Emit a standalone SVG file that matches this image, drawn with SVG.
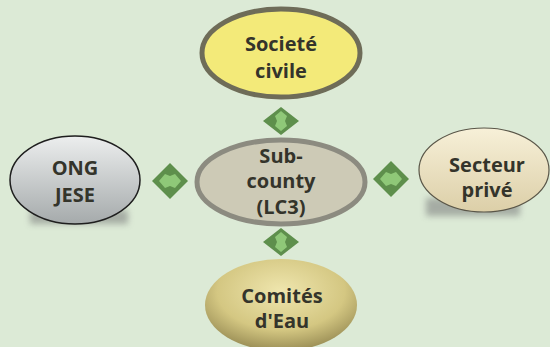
<svg xmlns="http://www.w3.org/2000/svg" width="550" height="347" viewBox="0 0 550 347">
<defs>
<linearGradient id="gGray" x1="0" y1="0" x2="0" y2="1">
<stop offset="0" stop-color="#eceeee"/><stop offset="1" stop-color="#a5aaab"/>
</linearGradient>
<linearGradient id="gCream" x1="0" y1="0" x2="0" y2="1">
<stop offset="0" stop-color="#f7f0d8"/><stop offset="1" stop-color="#dccfa8"/>
</linearGradient>
<radialGradient id="gGold" cx="0.5" cy="0.35" r="0.7">
<stop offset="0" stop-color="#efe6ae"/><stop offset="0.6" stop-color="#d4c782"/><stop offset="1" stop-color="#8e824c"/>
</radialGradient>
<filter id="blur" x="-20%" y="-50%" width="140%" height="200%"><feGaussianBlur stdDeviation="3"/></filter>
<g id="dv">
<path d="M0,-14 L18,0 L0,14 L-18,0 Z" fill="#5e8f4c"/>
<path d="M0,-10 L6,-5 L4,0 L6,5 L0,10 L-6,5 L-4,0 L-6,-5 Z" fill="#8fc878"/>
</g>
<g id="dh">
<path d="M0,-18 L18,0 L0,18 L-18,0 Z" fill="#5e8f4c"/>
<path d="M-11,0 L-5,-7 L0,-5 L5,-7 L11,0 L5,7 L0,5 L-5,7 Z" fill="#8fc878"/>
</g>
</defs>
<style>
.t{font-family:"Open Sans","Liberation Sans",sans-serif;font-weight:bold;font-size:20px;fill:#34342b;text-anchor:middle}
</style>
<rect width="550" height="347" fill="#dcead6"/>
<g id="connectors">
<use href="#dv" x="281" y="121"/>
<use href="#dv" x="281" y="242"/>
<use href="#dh" x="170" y="181"/>
<use href="#dh" x="391" y="179"/>
</g>
<g id="societe">
<ellipse cx="281" cy="53" rx="79" ry="44" fill="#f3ea79" stroke="#6e6c58" stroke-width="5"/>
<text class="t" x="281" y="51">Societé</text>
<text class="t" x="281" y="78">civile</text>
</g>
<g id="subcounty">
<ellipse cx="281" cy="182" rx="84" ry="42" fill="#cdcab6" stroke="#8c8b80" stroke-width="5"/>
<text class="t" x="281" y="163">Sub-</text>
<text class="t" x="281" y="188">county</text>
<text class="t" x="281" y="214">(LC3)</text>
</g>
<g id="ong">
<rect x="30" y="210" width="98" height="14" fill="#8f938f" filter="url(#blur)" opacity="0.7"/>
<ellipse cx="75" cy="180" rx="65" ry="44" fill="url(#gGray)" stroke="#1e1e1e" stroke-width="1.5"/>
<text class="t" x="75" y="175">ONG</text>
<text class="t" x="75" y="202">JESE</text>
</g>
<g id="secteur">
<rect x="426" y="198" width="94" height="18" fill="#8f938f" filter="url(#blur)" opacity="0.7"/>
<ellipse cx="484" cy="170" rx="65" ry="42" fill="url(#gCream)" stroke="#5a5648" stroke-width="1.2"/>
<text class="t" x="487" y="172">Secteur</text>
<text class="t" x="487" y="197">privé</text>
</g>
<g id="comites">
<ellipse cx="281" cy="305" rx="76" ry="46" fill="url(#gGold)"/>
<text class="t" x="282" y="303">Comités</text>
<text class="t" x="282" y="328">d'Eau</text>
</g>
</svg>
